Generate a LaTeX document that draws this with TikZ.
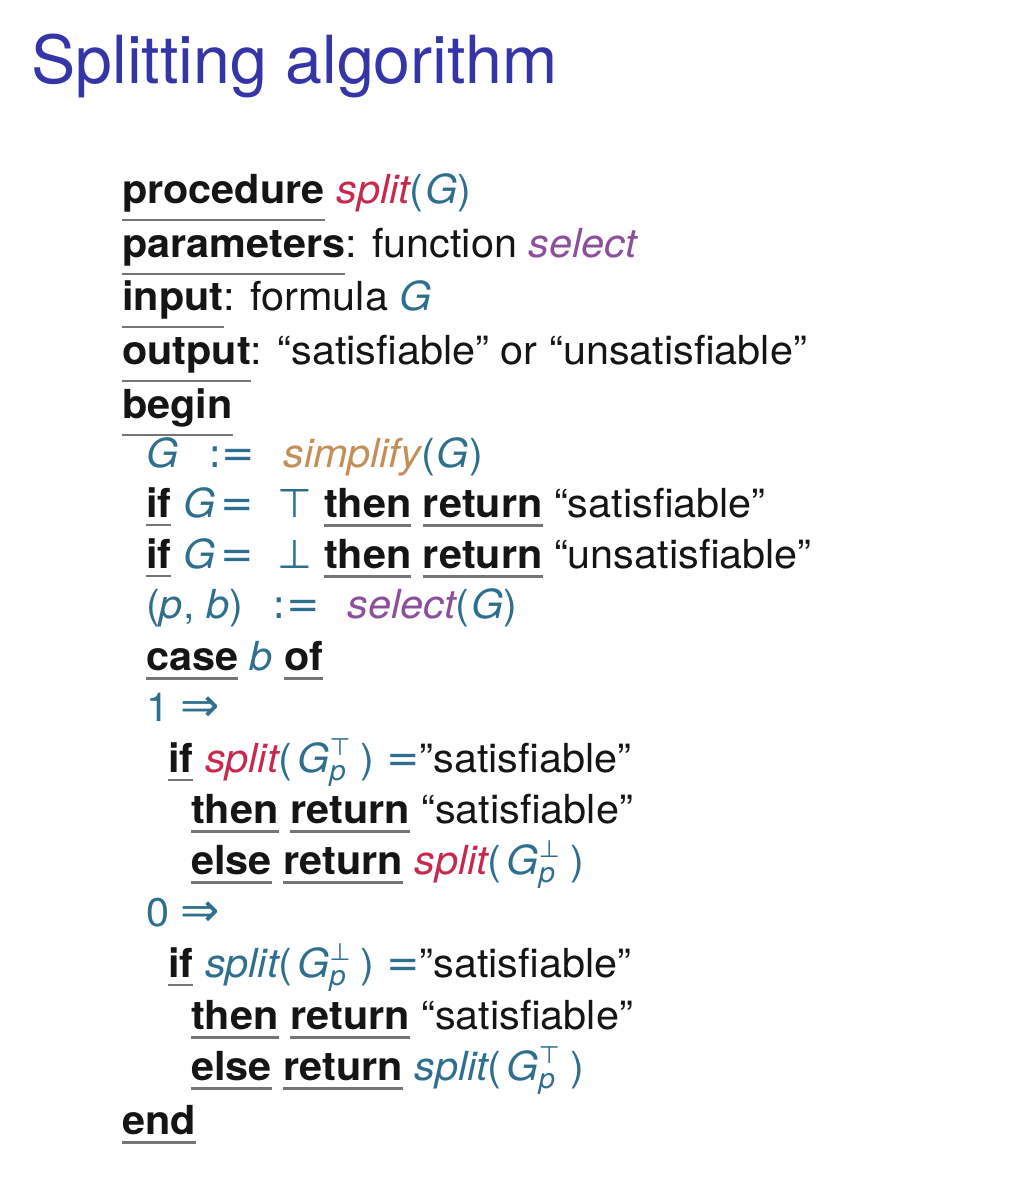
\documentclass[tikz,border=0pt]{standalone}
\usepackage{fontspec}
\setmainfont[FakeStretch=1.035]{TeX Gyre Heros}
\newfontfamily\titlef{TeX Gyre Heros}
\newfontfamily\symf{DejaVu Sans}
\definecolor{kwc}{HTML}{151515}
\definecolor{ulc}{HTML}{757575}
\definecolor{mt}{HTML}{2E6F8E}
\definecolor{sred}{HTML}{C7284C}
\definecolor{spur}{HTML}{8C4F9C}
\definecolor{stan}{HTML}{C48F56}
\definecolor{ttl}{HTML}{3535A8}
\newcommand\kw[1]{\setbox0=\hbox{\bfseries #1}\rlap{\textcolor{ulc}{\rule[\dimexpr-\dp0-9.4pt\relax]{\wd0}{2.4pt}}}\box0\relax}
\newcommand\mv[1]{{\color{mt}\itshape #1}}
\newcommand\fn[2]{{\color{#1}\itshape #2}}
\newcommand\sym[1]{{\color{mt}\symf #1}}
\newcommand\arr{{\color{mt}\symf\fontsize{47}{47}\selectfont ⇒}}
\newcommand\Gp[1]{\mv{G}{\color{mt}\rlap{\raisebox{17pt}{\fontsize{24}{24}\selectfont\symf #1}}\raisebox{-8pt}{\fontsize{28}{28}\selectfont\itshape p}}}
\begin{document}
\begin{tikzpicture}[x=1pt,y=-1pt,
  codeline/.style={anchor=base west, inner sep=0pt, font=\fontsize{40}{48}\selectfont, text=kwc},
  titlestyle/.style={anchor=base west, inner sep=0pt, font=\titlef\fontsize{66.3}{80}\selectfont, text=ttl}]
\useasboundingbox[fill=white] (0,0) rectangle (1032,1203);
\node[titlestyle] (title) at (31,83) {Splitting algorithm};
\node[codeline] (l1) at (122,203) {\kw{procedure} \fn{sred}{split}{\color{mt}(\hspace{2pt}\mv{G})}};
\node[codeline] (l2) at (122,257) {\kw{parameters}: function \fn{spur}{select}};
\node[codeline] (l3) at (122,310) {\kw{input}: formula \mv{G}};
\node[codeline] (l4) at (122,364) {\kw{output}: “satisfiable” or “unsatisfiable”};
\node[codeline] (l5) at (122,418) {\kw{begin}};
\node[codeline] (l6) at (146,467) {\mv{G}\hspace{30pt}\sym{:=}\hspace{28pt}\fn{stan}{simplify}{\color{mt}(\hspace{2pt}\mv{G})}};
\node[codeline] (l7) at (146,517) {\kw{if} \mv{G}\hspace{5pt}\sym{=}\hspace{24pt}\sym{⊤} \kw{then} \kw{return} “satisfiable”};
\node[codeline] (l8) at (146,568) {\kw{if} \mv{G}\hspace{5pt}\sym{=}\hspace{24pt}\sym{⊥} \kw{then} \kw{return} “unsatisfiable”};
\node[codeline] (l9) at (146,618) {{\color{mt}(\mv{p}, \mv{b})}\hspace{30pt}\sym{:=}\hspace{28pt}\fn{spur}{select}{\color{mt}(\hspace{2pt}\mv{G})}};
\node[codeline] (l10) at (146,670) {\kw{case} \mv{b} \kw{of}};
\node[codeline] (l11) at (146,721) {{\color{mt}1 \arr}};
\node[codeline] (l12) at (168,772) {\kw{if} \fn{sred}{split}{\color{mt}(\hspace{5pt}\Gp{⊤}\hspace{15pt}) \sym{=}}”satisfiable”};
\node[codeline] (l13) at (191,823) {\kw{then} \kw{return} “satisfiable”};
\node[codeline] (l14) at (191,874) {\kw{else} \kw{return} \fn{sred}{split}{\color{mt}(\hspace{5pt}\Gp{⊥}\hspace{15pt})}};
\node[codeline] (l15) at (146,926) {{\color{mt}0 \arr}};
\node[codeline] (l16) at (168,977) {\kw{if} \fn{mt}{split}{\color{mt}(\hspace{5pt}\Gp{⊥}\hspace{15pt}) \sym{=}}”satisfiable”};
\node[codeline] (l17) at (191,1029) {\kw{then} \kw{return} “satisfiable”};
\node[codeline] (l18) at (191,1080) {\kw{else} \kw{return} \fn{mt}{split}{\color{mt}(\hspace{5pt}\Gp{⊤}\hspace{15pt})}};
\node[codeline] (l19) at (122,1134) {\kw{end}};
\end{tikzpicture}
\end{document}
